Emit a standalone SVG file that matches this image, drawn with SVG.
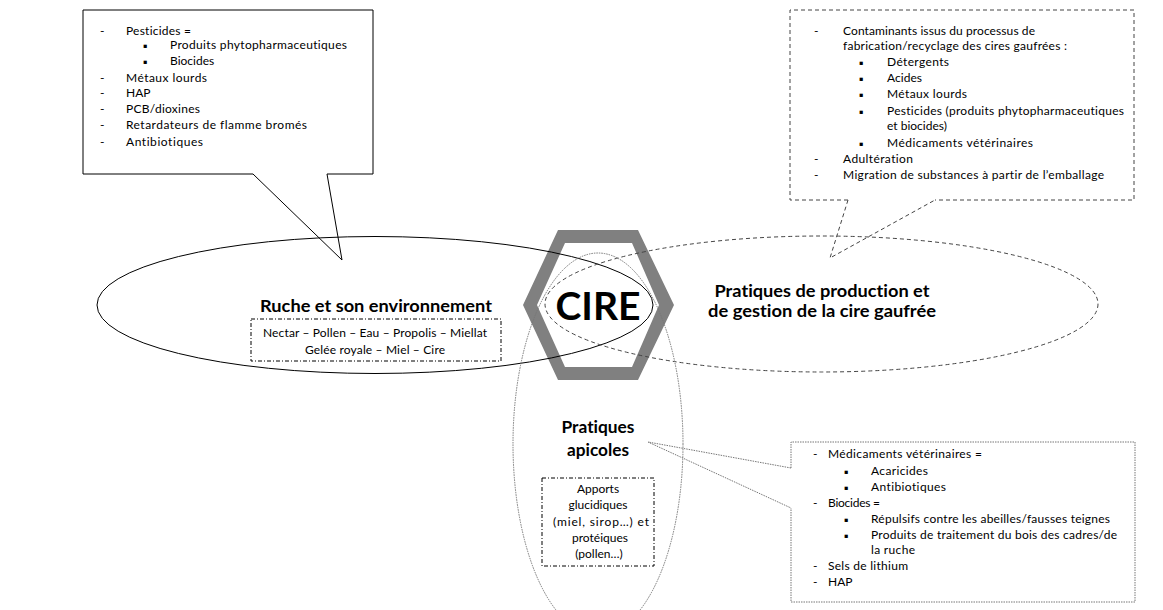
<svg xmlns="http://www.w3.org/2000/svg" width="1163" height="610" viewBox="0 0 1163 610">
<style>
text{font-variant-ligatures:none;font-feature-settings:"liga" 0,"clig" 0}
.t{font-family:Lato,"Open Sans","DejaVu Sans",sans-serif;font-size:12px;fill:#000}
.b{font-family:Lato,"Open Sans","DejaVu Sans",sans-serif;font-weight:bold;fill:#000}
.m{text-anchor:middle}
.bu{font-family:"DejaVu Sans",sans-serif;font-size:6.5px;fill:#000}
.solid{fill:none;stroke:#000;stroke-width:1}
.dash{fill:none;stroke:#444;stroke-width:1;stroke-dasharray:4 3}
.dot{fill:none;stroke:#777;stroke-width:1;stroke-dasharray:1.5 1}
.dashdot{fill:none;stroke:#000;stroke-width:1;stroke-dasharray:4 2 1 2}
</style>
<rect width="1163" height="610" fill="#fff"/>

<g id="cire">
<path d="M523,305 L558,230 L638,230 L674,305 L638,380 L558,380 Z M537,305 L565,243 L632,243 L659,305 L632,367 L565,367 Z" fill="#808080" fill-rule="evenodd"/>
<text class="b m" x="598" y="320" font-size="39" textLength="85" lengthAdjust="spacingAndGlyphs">CIRE</text>
</g>

<g id="ruche">
<ellipse class="solid" cx="375" cy="305" rx="278" ry="68.5"/>
<text class="b m" x="376" y="312" font-size="17" textLength="232" lengthAdjust="spacingAndGlyphs">Ruche et son environnement</text>
<rect class="dashdot" x="251" y="319" width="250" height="42"/>
<text class="t m" x="375" y="337" textLength="224" lengthAdjust="spacing">Nectar – Pollen – Eau – Propolis – Miellat</text>
<text class="t m" x="375" y="354" textLength="140" lengthAdjust="spacing">Gelée royale – Miel – Cire</text>
</g>

<g id="production">
<ellipse class="dash" cx="821.5" cy="304" rx="276.5" ry="68"/>
<text class="b m" x="822" y="297" font-size="17" textLength="215" lengthAdjust="spacingAndGlyphs">Pratiques de production et</text>
<text class="b m" x="822" y="317" font-size="17" textLength="228" lengthAdjust="spacingAndGlyphs">de gestion de la cire gaufrée</text>
</g>

<g id="apicoles">
<ellipse class="dot" cx="598" cy="444" rx="85" ry="191"/>
<text class="b m" x="598" y="433" font-size="17" textLength="73" lengthAdjust="spacingAndGlyphs">Pratiques</text>
<text class="b m" x="598" y="456" font-size="17" textLength="62" lengthAdjust="spacingAndGlyphs">apicoles</text>
<rect class="dashdot" x="542" y="478" width="112" height="88"/>
<text class="t m" x="598" y="493">Apports</text>
<text class="t m" x="598" y="509">glucidiques</text>
<text class="t m" x="601" y="526" textLength="96" lengthAdjust="spacing">(miel, sirop…) et</text>
<text class="t m" x="600" y="542">protéiques</text>
<text class="t m" x="599" y="558">(pollen…)</text>
</g>

<g id="callout-environnement">
<path class="solid" d="M253,174 L83,174 L83,10 L373,10 L373,174 L327,174"/>
<text class="t" x="100" y="35">-</text>
<text class="t" x="126" y="35" textLength="65" lengthAdjust="spacing">Pesticides =</text>
<text class="bu" x="143" y="48">▪</text>
<text class="t" x="170" y="49" textLength="177" lengthAdjust="spacing">Produits phytopharmaceutiques</text>
<text class="bu" x="143" y="64">▪</text>
<text class="t" x="170" y="65">Biocides</text>
<text class="t" x="100" y="82">-</text>
<text class="t" x="126" y="82" textLength="81" lengthAdjust="spacing">Métaux lourds</text>
<text class="t" x="100" y="97">-</text>
<text class="t" x="126" y="97">HAP</text>
<text class="t" x="100" y="113">-</text>
<text class="t" x="126" y="113" textLength="74" lengthAdjust="spacing">PCB/dioxines</text>
<text class="t" x="100" y="129">-</text>
<text class="t" x="126" y="129" textLength="181" lengthAdjust="spacing">Retardateurs de flamme bromés</text>
<text class="t" x="100" y="146">-</text>
<text class="t" x="126" y="146" textLength="77" lengthAdjust="spacing">Antibiotiques</text>
</g>

<g id="callout-production">
<path class="dash" d="M848,200 L790,200 L790,10 L1134,10 L1134,200 L935,200"/>
<text class="t" x="814" y="35">-</text>
<text class="t" x="843" y="35" textLength="192" lengthAdjust="spacing">Contaminants issus du processus de</text>
<text class="t" x="843" y="50" textLength="224" lengthAdjust="spacing">fabrication/recyclage des cires gaufrées :</text>
<text class="bu" x="859" y="65">▪</text>
<text class="t" x="887" y="66" textLength="62" lengthAdjust="spacing">Détergents</text>
<text class="bu" x="859" y="81">▪</text>
<text class="t" x="887" y="82" textLength="35" lengthAdjust="spacing">Acides</text>
<text class="bu" x="859" y="97">▪</text>
<text class="t" x="887" y="98" textLength="80" lengthAdjust="spacing">Métaux lourds</text>
<text class="bu" x="859" y="114">▪</text>
<text class="t" x="887" y="115" textLength="237" lengthAdjust="spacing">Pesticides (produits phytopharmaceutiques</text>
<text class="t" x="887" y="130">et biocides)</text>
<text class="bu" x="859" y="146">▪</text>
<text class="t" x="887" y="147" textLength="146" lengthAdjust="spacing">Médicaments vétérinaires</text>
<text class="t" x="814" y="163">-</text>
<text class="t" x="843" y="163" textLength="70" lengthAdjust="spacing">Adultération</text>
<text class="t" x="814" y="179">-</text>
<text class="t" x="843" y="179" textLength="261" lengthAdjust="spacing">Migration de substances à partir de l’emballage</text>
</g>

<g id="callout-apicoles">
<path class="dot" d="M791,468 L791,442 L1135,442 L1135,602 L791,602 L791,508"/>
<text class="t" x="813" y="458">-</text>
<text class="t" x="828" y="458" textLength="154" lengthAdjust="spacing">Médicaments vétérinaires =</text>
<text class="bu" x="844" y="474">▪</text>
<text class="t" x="871" y="475" textLength="57" lengthAdjust="spacing">Acaricides</text>
<text class="bu" x="844" y="490">▪</text>
<text class="t" x="871" y="491" textLength="75" lengthAdjust="spacing">Antibiotiques</text>
<text class="t" x="813" y="507">-</text>
<text class="t" x="828" y="507" textLength="52" lengthAdjust="spacing">Biocides =</text>
<text class="bu" x="844" y="522">▪</text>
<text class="t" x="871" y="523" textLength="239" lengthAdjust="spacing">Répulsifs contre les abeilles/fausses teignes</text>
<text class="bu" x="844" y="538">▪</text>
<text class="t" x="871" y="539" textLength="246" lengthAdjust="spacing">Produits de traitement du bois des cadres/de</text>
<text class="t" x="871" y="554" textLength="44" lengthAdjust="spacing">la ruche</text>
<text class="t" x="813" y="570">-</text>
<text class="t" x="828" y="570" textLength="80" lengthAdjust="spacing">Sels de lithium</text>
<text class="t" x="813" y="586">-</text>
<text class="t" x="828" y="586">HAP</text>
</g>

<g id="connectors">
<polyline class="solid" points="253,174 342,260 327,174"/>
<polyline class="dash" points="848,200 830,258 935,200"/>
<polyline class="dot" points="791,468 648,442 791,508"/>
</g>
</svg>
